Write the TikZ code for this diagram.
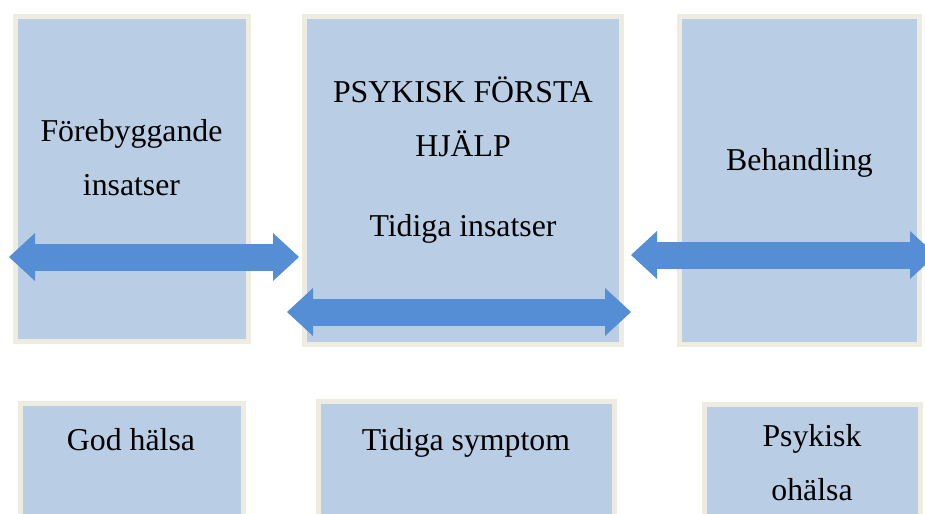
\documentclass[tikz,border=0pt]{standalone}
\usepackage{fontspec}
\setmainfont{Liberation Serif}
\usepackage{tikz}
\usetikzlibrary{arrows.meta, fit}

\definecolor{panelfill}{HTML}{B9CDE5}
\definecolor{panelrim}{HTML}{EEECE1}
\definecolor{arrowblue}{HTML}{558ED5}

\tikzset{
	panel/.style = {draw = panelrim, fill = panelfill, line width = 3.75pt, inner sep = 0pt},
	boxtext/.style = {anchor = base, align = center, inner sep = 0pt, font = \fontsize{23.85}{40.5}\selectfont},
	twoway/.style = {draw = arrowblue, line width = 20.25pt,
		{Triangle[width = 36pt, length = 19.5pt, line width = 0pt, fill = arrowblue]}-{Triangle[width = 36pt, length = 19.5pt, line width = 0pt, fill = arrowblue]}}
}

\begin{document}
\begin{tikzpicture}[x = 0.75pt, y = -0.75pt]
						\useasboundingbox (0,0) rectangle (925,514);
						\clip (0,0) rectangle (925,514);
						\begin{scope}
							\node [panel, fit = {(15.5,16.5) (248,341)}] (prevbox) {};
							\node [panel, fit = {(304,16.5) (621,344.5)}] (pfhbox) {};
							\node [panel, fit = {(679.5,16.5) (919,344.5)}] (treatbox) {};
							\node [panel, fit = {(20,403.5) (243,560)}] (goodbox) {};
							\node [panel, fit = {(318,401.5) (614.5,560)}] (earlybox) {};
							\node [panel, fit = {(704.5,404) (920,560)}] (illbox) {};
						\end{scope}
						\begin{scope}
							% base = baseline of the last line
							\node [boxtext] (prevtext) at (131.5,195) {Förebyggande\\insatser};
							\node [boxtext] (pfhtext) at (463,236.7) {PSYKISK FÖRSTA\\HJÄLP\\[19.8pt]Tidiga insatser};
							\node [boxtext] (treattext) at (799.5,170) {Behandling};
							\node [boxtext] (goodtext) at (131,450) {God hälsa};
							\node [boxtext] (earlytext) at (466,450) {Tidiga symptom};
							\node [boxtext] (illtext) at (812,500) {Psykisk\\ohälsa};
						\end{scope}
						\begin{scope}
							\coordinate (prevL) at (9,257);
							\coordinate (prevR) at (299,257);
							\coordinate (pfhL) at (287,312);
							\coordinate (pfhR) at (631,312);
							\coordinate (treatL) at (631,255);
							\coordinate (treatR) at (936,255);

							\draw [twoway] (prevL) -- (prevR);
							\draw [twoway] (pfhL) -- (pfhR);
							\draw [twoway] (treatL) -- (treatR);
						\end{scope}
					\end{tikzpicture}
\end{document}
